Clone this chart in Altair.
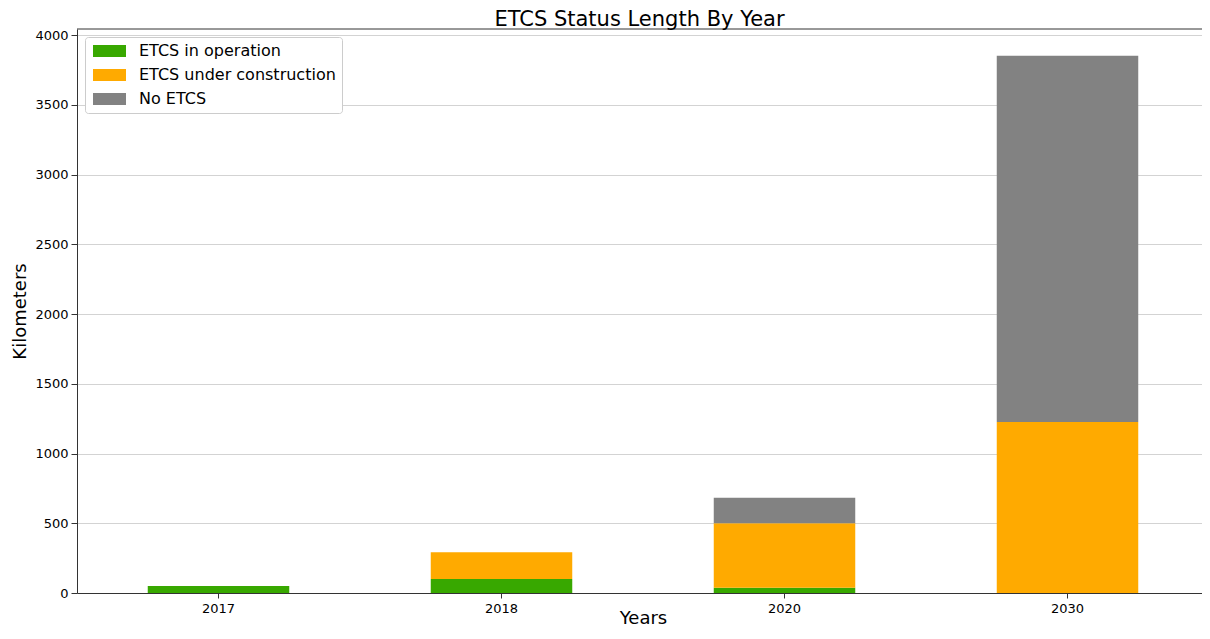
import altair as alt
import pandas as pd

years = ["2017", "2018", "2020", "2030"]
statuses = ["ETCS in operation", "ETCS under construction", "No ETCS"]
in_operation = [50, 100, 38, 0]
under_construction = [0, 192, 462, 1226]
no_etcs = [0, 0, 183, 2628]
colors = ["#38a800", "#ffaa00", "#828282"]
y_ticks = [0, 500, 1000, 1500, 2000, 2500, 3000, 3500, 4000]

rows = []
for i, y in enumerate(years):
    for s, vals in zip(statuses, [in_operation, under_construction, no_etcs]):
        rows.append({"year": y, "status": s, "km": vals[i]})
df = pd.DataFrame(rows)

font = "DejaVu Sans"
W = 1125  # visible plot width (page limit); band range spans full matplotlib axes width

bars = alt.Chart(df).transform_calculate(
    order="indexof(['ETCS in operation','ETCS under construction','No ETCS'], datum.status)"
).mark_bar().encode(
    x=alt.X("year:N", title="Years", sort=years,
            scale=alt.Scale(paddingInner=0.5, paddingOuter=0.25, range=[0, 1132]),
            axis=alt.Axis(labelAngle=0, grid=False, tickSize=5, labelPadding=4,
                          labelFontSize=13, titleFontSize=18,
                          titleBaseline="alphabetic", titleY=30,
                          domainColor="#333", tickColor="#333",
                          labelColor="black", titleColor="black",
                          titleFontWeight="normal")),
    y=alt.Y("km:Q", title="Kilometers", stack="zero",
            scale=alt.Scale(domain=[0, 4045], nice=False, zero=True),
            axis=alt.Axis(values=y_ticks, format="d",
                          tickSize=6, labelPadding=3, labelFontSize=13,
                          titleFontSize=18, titleX=-52, titleY=282,
                          titleBaseline="alphabetic", titleAngle=270,
                          titleAlign="center",
                          gridColor="#d3d3d3", gridWidth=1,
                          domainColor="#333", tickColor="#333",
                          labelColor="black", titleColor="black",
                          titleFontWeight="normal")),
    color=alt.Color("status:N", title=None,
                    scale=alt.Scale(domain=statuses, range=colors),
                    legend=alt.Legend(orient="none", legendX=8, legendY=8,
                                      symbolType="M-1,-1H4.5V1H-1Z",
                                      symbolSize=144, symbolStrokeWidth=0,
                                      labelOffset=32, labelFontSize=16,
                                      labelLimit=0,
                                      labelColor="black", rowPadding=8,
                                      padding=6, fillColor="white",
                                      strokeColor="#cccccc", cornerRadius=3)),
    order=alt.Order("order:Q"),
)

top_spine = alt.Chart(pd.DataFrame({"a": [0]})).mark_rule(
    color="#333", strokeWidth=1
).encode(x=alt.value(0), x2=alt.value(1132), y=alt.value(0))

chart = alt.layer(bars, top_spine).properties(
    width=W, height=564,
    title=alt.TitleParams("ETCS Status Length By Year", fontSize=21,
                          fontWeight="normal", color="black",
                          offset=4, dy=5),
    autosize=alt.AutoSizeParams(type="none"),
    padding={"left": 69, "top": 21, "right": 0, "bottom": 36},
).configure(font=font).configure_view(stroke=None)

chart.save("out.html", embed_options={"renderer": "svg", "actions": False})
